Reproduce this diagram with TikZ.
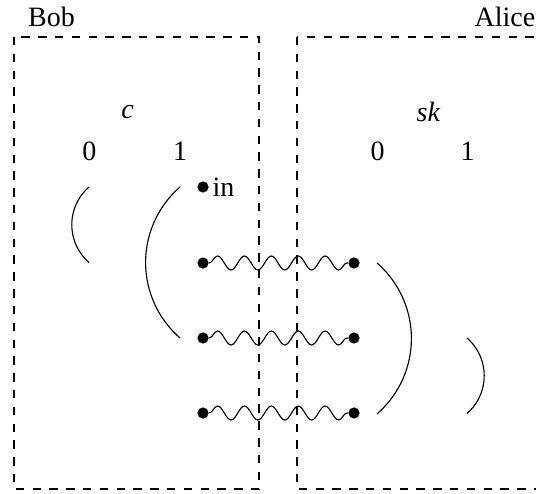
\documentclass[tikz,border=0pt]{standalone}
\usepackage{fontspec}
\setmainfont{Liberation Serif}
\usetikzlibrary{positioning,decorations.pathmorphing}
\tikzset{
    qubit/.style={circle, fill, inner sep=0pt, minimum size=4pt},
    party/.style={dashed},
    wave/.style={decorate, decoration={snake, amplitude=2.5pt, segment length=9.6pt}}
}
\begin{document}
\begin{tikzpicture}[x=0.357pt, y=-0.357pt]
            \useasboundingbox (0,0) rectangle (536,493);

            % the two labs
            \draw[party] (14,37) rectangle (259,489);
            \draw[party] (297,37) rectangle (560,489);

            \node (bob) at (51.5,16.5) {Bob};
            \node (alice) at (505,16.5) {Alice};

            \node (c) at (127.5,112) {\textit{c}};
            \node (sk) at (428.5,112) {\textit{sk}};
            \node (c0) at (89.5,151.5) {0};
            \node (c1) at (180,151.5) {1};
            \node (sk0) at (377.5,151.5) {0};
            \node (sk1) at (467.5,151.5) {1};

            \begin{scope}[every node/.style={qubit}]

                \node (in) at (203,187) {};
                \node (b1) at (203,263) {};
                \node (b2) at (203,338) {};
                \node (b3) at (203,413) {};
                \node (a1) at (354,263) {};
                \node (a2) at (354,338) {};
                \node (a3) at (354,413) {};

                \path (b1) edge[wave] (a1);
                \path (b2) edge[wave] (a2);
                \path (b3) edge[wave] (a3);
            \end{scope}
            \node[right=0pt of in, inner sep=1pt] (intext) {in};

            % brackets
            \draw (89,187) arc[start angle=229, end angle=131, radius=50];
            \draw (180,187) arc[start angle=229, end angle=131, radius=100];
            \draw (377,263) arc[start angle=-49, end angle=49, radius=100];
            \draw (467,338) arc[start angle=-49, end angle=49, radius=50];
\end{tikzpicture}
\end{document}
